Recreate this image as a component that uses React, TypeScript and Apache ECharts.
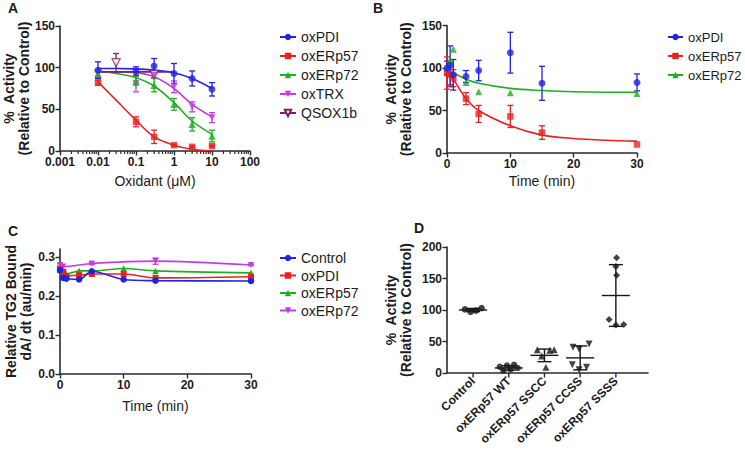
import React, { useEffect, useRef } from "react";
import * as echarts from "echarts";

// ---------- Panel A: activity vs oxidant dose ----------
const aDoses = [0.01, 0.1, 0.3, 1, 3, 10];
const aPdiMean = [97, 96, 102, 93, 87, 74];
const aPdiSd = [10, 5, 9, 12, 9, 8];
const aErp57Mean = [82, 35, 17, 7, 5, 6];
const aErp57Sd = [3, 6, 8, 1, 1, 1];
const aErp72Mean = [92, 84, 79, 56, 32, 18];
const aErp72Sd = [4, 5, 8, 7, 8, 7];
const aTrxMean = [93, 81, 91, 77, 53, 40];
const aTrxSd = [3, 10, 3, 7, 6, 6];
const aQsoxDoses = [0.03, 0.3];
const aQsoxMean = [106, 92];
const aQsoxSd = [11, 4];
const aFitDoses = [0.01, 0.03, 0.1, 0.3, 1, 3, 10];
const aPdiFit = [99, 99, 98.5, 97, 94, 87, 75];
const aErp57Fit = [83, 61, 37, 17, 7, 2, 0];
const aErp72Fit = [96, 93, 88, 78, 58, 36, 20];
const aTrxFit = [95, 95, 94, 89, 75, 56, 41];
const aQsoxFitDoses = [0.01, 0.03, 0.1, 0.3, 1];
const aQsoxFit = [95, 95, 95, 95, 95];

// ---------- Panel B: activity vs time ----------
const bPdiTime = [0, 0.5, 1, 3, 5, 10, 15, 30];
const bPdiMean = [100, 103, 92, 90, 97, 118, 82, 83];
const bPdiSd = [8, 23, 18, 7, 12, 24, 20, 10];
const bErp57Time = [0, 0.5, 1, 3, 5, 10, 15, 30];
const bErp57Mean = [94, 92, 88, 64, 46, 43, 24, 10];
const bErp57Sd = [19, 14, 10, 7, 10, 13, 8, 0];
const bErp72Time = [0, 0.5, 1, 3, 5, 10, 30];
const bErp72Mean = [100, 110, 122, 83, 72, 71, 70];
const bFitTime = [0, 1, 3, 5, 10, 15, 20, 25, 30];
const bErp57Fit = [99, 87, 64, 50, 32, 21, 17, 15, 14];
const bErp72Fit = [98, 94, 87, 82, 76, 73.5, 72, 71.5, 71.5];

// ---------- Panel C: TG2 binding vs time ----------
const cTime = [0, 0.5, 1, 3, 5, 10, 15, 30];
const cControl = [0.266, 0.246, 0.244, 0.242, 0.263, 0.242, 0.239, 0.238];
const cPdi = [0.268, 0.262, 0.251, 0.253, 0.256, 0.256, 0.246, 0.249];
const cPdiSd = [0.006, 0, 0, 0.004, 0, 0, 0, 0];
const cErp57 = [0.266, 0.262, 0.256, 0.264, 0.264, 0.27, 0.264, 0.259];
const cErp72Time = [0, 0.5, 5, 15, 30];
const cErp72 = [0.279, 0.275, 0.283, 0.289, 0.279];
const cErp72Sd = [0.003, 0, 0.003, 0.008, 0.002];
const cYTicks = [0, 0.1, 0.2, 0.3];

// ---------- Panel D: mutants ----------
const dCategories = ["Control", "oxERp57 WT", "oxERp57 SSCC", "oxERp57 CCSS", "oxERp57 SSSS"];
const dControlPts = [[0.77, 101], [0.93, 97], [1.08, 99], [1.24, 103]];
const dWtPts = [[1.75, 10], [1.85, 4], [1.95, 12], [2.05, 6], [2.15, 13], [2.25, 8]];
const dSsccPts = [[2.8, 37], [2.92, 27], [3.04, 9], [3.15, 36], [3.27, 37]];
const dCcssPts = [[3.8, 41], [3.97, 38], [4.25, 46], [3.78, 13], [3.97, 5], [4.18, 9]];
const dSsssPts = [[5.02, 183], [5.0, 169], [5.02, 155], [4.81, 85], [5.0, 76], [5.22, 77]];
const dMeans = [100, 8, 28, 24, 123];
const dSds = [2.5, 3.5, 10, 19, 49];
const dTickPositions = [1, 2, 3, 4, 5];

const BLUE = "#2222e6";
const RED = "#e82222";
const GREEN = "#22ad22";
const MAGENTA = "#c23ee0";
const PURPLE = "#78245f";
const BLACK = "#151515";
const TRI_DOWN = "path://M0,0L10,0L5,9Z";
const FONT = "'Liberation Sans', Arial, Helvetica, sans-serif";
const AX = "#2a2a2a";
const TXT = "#1c1c1c";

const zip2 = (xs: number[], ys: number[]) => xs.map((x, i) => [x, ys[i]]);
const zip3 = (xs: number[], ys: number[], es: number[]) => xs.map((x, i) => [x, ys[i], es[i]]);

// log-axis minor tick positions (2..9 within each decade)
const aMinorTicks: number[] = [];
for (let d = -3; d <= 1; d++) {
  for (let k = 2; k <= 9; k++) aMinorTicks.push(Number((k * Math.pow(10, d)).toPrecision(2)));
}

function errSeries(xi: number, yi: number, data: number[][], color: string, cap = 3) {
  return {
    type: "custom",
    xAxisIndex: xi,
    yAxisIndex: yi,
    data,
    encode: { x: 0, y: 1 },
    silent: true,
    z: 3,
    renderItem: (_p: any, api: any) => {
      const x = api.value(0);
      const y = api.value(1);
      const e = api.value(2);
      if (!e) return null;
      const top = api.coord([x, y + e]);
      const bot = api.coord([x, Math.max(y - e, 0)]);
      const style = { stroke: color, lineWidth: 1.3 };
      return {
        type: "group",
        children: [
          { type: "line", shape: { x1: top[0], y1: top[1], x2: bot[0], y2: bot[1] }, style },
          { type: "line", shape: { x1: top[0] - cap, y1: top[1], x2: top[0] + cap, y2: top[1] }, style },
          { type: "line", shape: { x1: bot[0] - cap, y1: bot[1], x2: bot[0] + cap, y2: bot[1] }, style },
        ],
      };
    },
  };
}

function tickSeries(xi: number, yi: number, values: number[], len: number, width: number) {
  return {
    type: "custom",
    xAxisIndex: xi,
    yAxisIndex: yi,
    data: values.map((v) => [v, 0]),
    encode: { x: 0, y: 1 },
    silent: true,
    clip: false,
    z: 5,
    renderItem: (_p: any, api: any) => {
      const p = api.coord([api.value(0), 0]);
      return {
        type: "line",
        shape: { x1: p[0], y1: p[1], x2: p[0], y2: p[1] + len },
        style: { stroke: AX, lineWidth: width },
      };
    },
  };
}

function pts(xi: number, yi: number, data: number[][], color: string, symbol: string, size: number, empty = false) {
  return {
    type: "scatter",
    xAxisIndex: xi,
    yAxisIndex: yi,
    data,
    symbol,
    symbolSize: size,
    itemStyle: empty ? { color: "#fff", borderColor: color, borderWidth: 1.3 } : { color },
    z: 4,
    silent: true,
  };
}

function fit(name: string, xi: number, yi: number, data: number[][], color: string, symbol: string, empty = false) {
  return {
    type: "line",
    name,
    xAxisIndex: xi,
    yAxisIndex: yi,
    data,
    smooth: 0.35,
    showSymbol: false,
    symbol,
    symbolSize: 7,
    itemStyle: empty ? { color: "#fff", borderColor: color, borderWidth: 1.2 } : { color },
    lineStyle: { color, width: 1.6 },
    z: 2,
    silent: true,
  };
}

function cLine(name: string, data: number[][], color: string, symbol: string, size: number) {
  return {
    type: "line",
    name,
    xAxisIndex: 2,
    yAxisIndex: 2,
    data,
    smooth: 0.3,
    showSymbol: true,
    symbol,
    symbolSize: size,
    itemStyle: { color },
    lineStyle: { color, width: 1.6 },
    z: 3,
    silent: true,
  };
}

function dStats(data: number[][]) {
  return {
    type: "custom",
    xAxisIndex: 3,
    yAxisIndex: 3,
    data,
    encode: { x: 0, y: 1 },
    silent: true,
    z: 3,
    renderItem: (_p: any, api: any) => {
      const x = api.value(0);
      const m = api.value(1);
      const s = api.value(2);
      const c = api.coord([x, m]);
      const t = api.coord([x, m + s]);
      const b = api.coord([x, m - s]);
      const style = { stroke: BLACK, lineWidth: 1.4 };
      return {
        type: "group",
        children: [
          { type: "line", shape: { x1: c[0] - 14, y1: c[1], x2: c[0] + 14, y2: c[1] }, style },
          { type: "line", shape: { x1: t[0], y1: t[1], x2: b[0], y2: b[1] }, style },
          { type: "line", shape: { x1: t[0] - 7, y1: t[1], x2: t[0] + 7, y2: t[1] }, style },
          { type: "line", shape: { x1: b[0] - 7, y1: b[1], x2: b[0] + 7, y2: b[1] }, style },
        ],
      };
    },
  };
}

const axisLine = { show: true, onZero: false, lineStyle: { color: AX, width: 1.6 } };
const axisTick = { show: true, length: 4.5, inside: false, lineStyle: { color: AX, width: 1.4 } };
const axisLabel = { color: TXT, fontSize: 12, fontWeight: "bold", fontFamily: FONT, margin: 5 };
const yName = { color: TXT, fontSize: 14, fontWeight: "bold", fontFamily: FONT, lineHeight: 15 };
const xName = { color: TXT, fontSize: 14, fontFamily: FONT };

const legendBase = {
  orient: "vertical",
  itemWidth: 16,
  itemHeight: 8,
  itemGap: 3,
  padding: 0,
  selectedMode: false,
  formatter: (n: string) => n.split("|")[1],
  textStyle: { color: TXT, fontSize: 14, fontFamily: FONT, lineHeight: 16 },
};

export default function App() {
  const ref = useRef<HTMLDivElement>(null);
  useEffect(() => {
    if (!ref.current) return;
    const chart = echarts.init(ref.current, null, { renderer: "svg" });
    const option: any = {
      animation: false,
      backgroundColor: "#fff",
      textStyle: { fontFamily: FONT },
      grid: [
        { left: 60, top: 26, width: 190, height: 125 },
        { left: 447, top: 25.5, width: 190, height: 127.5 },
        { left: 60, top: 249, width: 191, height: 125 },
        { left: 447, top: 247, width: 201, height: 126 },
      ],
      xAxis: [
        {
          type: "log", gridIndex: 0, logBase: 10, min: 0.001, max: 100, position: "bottom",
          axisLine, axisTick, splitLine: { show: false },
          axisLabel: { ...axisLabel, formatter: (v: number) => String(Number(v.toPrecision(3))) },
          name: "Oxidant (\u03bcM)", nameLocation: "middle", nameGap: 23, nameTextStyle: xName,
        },
        {
          type: "value", gridIndex: 1, min: 0, max: 30, interval: 10, position: "bottom",
          axisLine, axisTick, axisLabel, splitLine: { show: false },
          name: "Time (min)", nameLocation: "middle", nameGap: 21, nameTextStyle: xName,
        },
        {
          type: "value", gridIndex: 2, min: 0, max: 30, interval: 10, position: "bottom",
          axisLine, axisTick, axisLabel, splitLine: { show: false },
          name: "Time (min)", nameLocation: "middle", nameGap: 25, nameTextStyle: xName,
        },
        {
          type: "value", gridIndex: 3, min: 0.27, max: 5.9, position: "bottom",
          axisLine, splitLine: { show: false },
          axisTick: { show: false },
          axisLabel: {
            ...axisLabel, rotate: 45, margin: 6, customValues: dTickPositions,
            formatter: (v: number) => dCategories[Math.round(v) - 1] || "",
          },
        },
      ],
      yAxis: [
        {
          type: "value", gridIndex: 0, min: 0, max: 150, interval: 50, position: "left",
          axisLine, axisTick, axisLabel, splitLine: { show: false },
          name: "%  Activity\n(Relative to Control)", nameLocation: "middle", nameRotate: 90, nameGap: 27,
          nameTextStyle: yName,
        },
        {
          type: "value", gridIndex: 1, min: 0, max: 150, interval: 50, position: "left",
          axisLine, axisTick, axisLabel, splitLine: { show: false },
          name: "%  Activity\n(Relative to Control)", nameLocation: "middle", nameRotate: 90, nameGap: 34,
          nameTextStyle: yName,
        },
        {
          type: "value", gridIndex: 2, min: 0, max: 0.32, position: "left",
          axisLine, splitLine: { show: false },
          axisTick: { ...axisTick, customValues: cYTicks },
          axisLabel: { ...axisLabel, customValues: cYTicks, formatter: (v: number) => v.toFixed(1) },
          name: "Relative TG2 Bound\ndA/ dt (au/min)", nameLocation: "middle", nameRotate: 90, nameGap: 27,
          nameTextStyle: yName,
        },
        {
          type: "value", gridIndex: 3, min: 0, max: 200, interval: 50, position: "left",
          axisLine, axisTick, axisLabel, splitLine: { show: false },
          name: "%  Activity\n(Relative to Control)", nameLocation: "middle", nameRotate: 90, nameGap: 34,
          nameTextStyle: yName,
        },
      ],
      legend: [
        { ...legendBase, left: 279, top: 29, data: ["A|oxPDI", "A|oxERp57", "A|oxERp72", "A|oxTRX", "A|QSOX1b"] },
        {
          ...legendBase, left: 667, top: 29, itemWidth: 15,
          textStyle: { ...legendBase.textStyle, fontSize: 13 },
          data: ["B|oxPDI", "B|oxERp57", "B|oxERp72"],
        },
        { ...legendBase, left: 279, top: 250, itemGap: 1.5, data: ["C|Control", "C|oxPDI", "C|oxERp57", "C|oxERp72"] },
      ],
      graphic: [
        { type: "text", left: 8, top: 1, style: { text: "A", font: `bold 14px ${FONT}`, fill: TXT } },
        { type: "text", left: 373, top: 1, style: { text: "B", font: `bold 14px ${FONT}`, fill: TXT } },
        { type: "text", left: 8, top: 224, style: { text: "C", font: `bold 14px ${FONT}`, fill: TXT } },
        { type: "text", left: 414, top: 221, style: { text: "D", font: `bold 14px ${FONT}`, fill: TXT } },
      ],
      series: [
        // Panel A
        tickSeries(0, 0, aMinorTicks, 3, 1.2),
        fit("A|oxPDI", 0, 0, zip2(aFitDoses, aPdiFit), BLUE, "circle"),
        fit("A|oxERp57", 0, 0, zip2(aFitDoses, aErp57Fit), RED, "rect"),
        fit("A|oxERp72", 0, 0, zip2(aFitDoses, aErp72Fit), GREEN, "triangle"),
        fit("A|oxTRX", 0, 0, zip2(aFitDoses, aTrxFit), MAGENTA, TRI_DOWN),
        fit("A|QSOX1b", 0, 0, zip2(aQsoxFitDoses, aQsoxFit), PURPLE, TRI_DOWN, true),
        errSeries(0, 0, zip3(aQsoxDoses, aQsoxMean, aQsoxSd), PURPLE),
        errSeries(0, 0, zip3(aDoses, aTrxMean, aTrxSd), MAGENTA),
        errSeries(0, 0, zip3(aDoses, aErp72Mean, aErp72Sd), GREEN),
        errSeries(0, 0, zip3(aDoses, aErp57Mean, aErp57Sd), RED),
        errSeries(0, 0, zip3(aDoses, aPdiMean, aPdiSd), BLUE),
        pts(0, 0, zip2(aQsoxDoses, aQsoxMean), PURPLE, TRI_DOWN, 8, true),
        pts(0, 0, zip2(aDoses, aTrxMean), MAGENTA, TRI_DOWN, 7),
        pts(0, 0, zip2(aDoses, aErp72Mean), GREEN, "triangle", 7.5),
        pts(0, 0, zip2(aDoses, aErp57Mean), RED, "rect", 6.5),
        pts(0, 0, zip2(aDoses, aPdiMean), BLUE, "circle", 7),
        // Panel B
        fit("B|oxPDI", 1, 1, [], BLUE, "circle"),
        fit("B|oxERp57", 1, 1, zip2(bFitTime, bErp57Fit), RED, "rect"),
        fit("B|oxERp72", 1, 1, zip2(bFitTime, bErp72Fit), GREEN, "triangle"),
        errSeries(1, 1, zip3(bErp57Time, bErp57Mean, bErp57Sd), RED),
        errSeries(1, 1, zip3(bPdiTime, bPdiMean, bPdiSd), BLUE),
        pts(1, 1, zip2(bErp72Time, bErp72Mean), GREEN, "triangle", 7),
        pts(1, 1, zip2(bErp57Time, bErp57Mean), RED, "rect", 6.5),
        pts(1, 1, zip2(bPdiTime, bPdiMean), BLUE, "circle", 7),
        // Panel C
        errSeries(2, 2, zip3(cErp72Time, cErp72, cErp72Sd), MAGENTA),
        errSeries(2, 2, zip3(cTime, cPdi, cPdiSd), RED),
        cLine("C|oxERp72", zip2(cErp72Time, cErp72), MAGENTA, TRI_DOWN, 6),
        cLine("C|oxERp57", zip2(cTime, cErp57), GREEN, "triangle", 6.5),
        cLine("C|oxPDI", zip2(cTime, cPdi), RED, "rect", 6),
        cLine("C|Control", zip2(cTime, cControl), BLUE, "circle", 6.5),
        // Panel D
        tickSeries(3, 3, dTickPositions, 4.5, 1.4),
        dStats(zip3(dTickPositions, dMeans, dSds)),
        pts(3, 3, dControlPts, BLACK, "circle", 6.5),
        pts(3, 3, dWtPts, BLACK, "circle", 6.5),
        pts(3, 3, dSsccPts, BLACK, "triangle", 7),
        pts(3, 3, dCcssPts, BLACK, TRI_DOWN, 7),
        pts(3, 3, dSsssPts, BLACK, "diamond", 7),
      ],
    };
    chart.setOption(option);
    return () => chart.dispose();
  }, []);
  return (
    <div
      ref={ref}
      style={{ position: "fixed", left: 0, top: 0, width: 745, height: 462, background: "#fff" }}
    />
  );
}
